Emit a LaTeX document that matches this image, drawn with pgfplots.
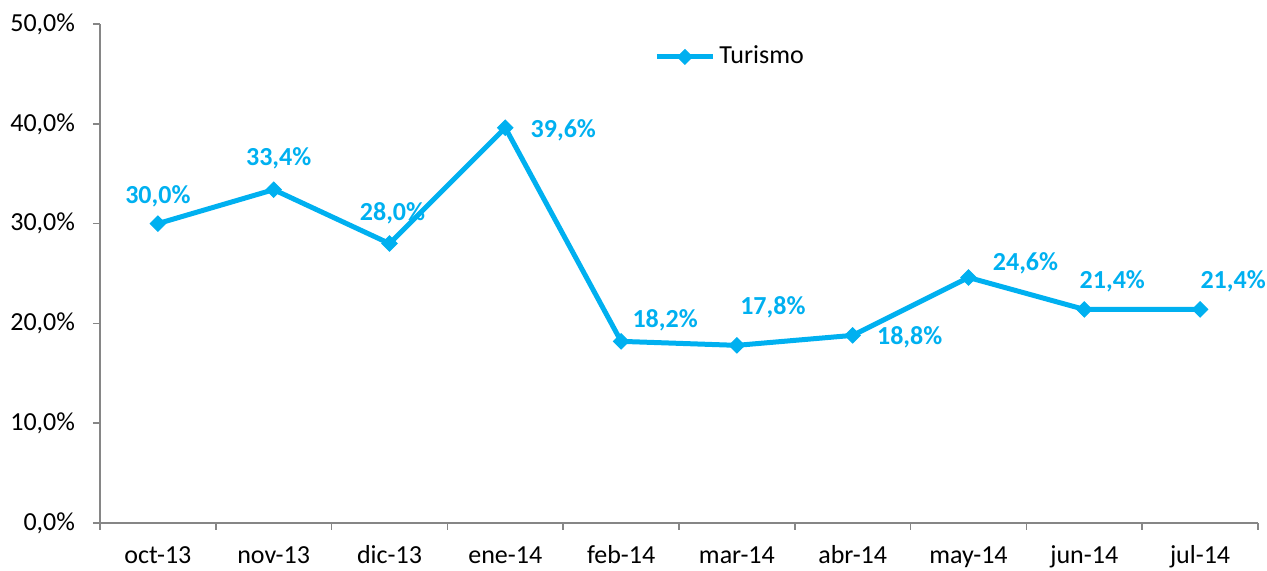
\documentclass[border=0pt]{standalone}
\usepackage{fontspec}
\setmainfont{Carlito}
\usepackage{pgfplots}
\pgfplotsset{compat=1.18}
\definecolor{tblue}{HTML}{00B0F0}
\definecolor{axgray}{HTML}{868686}
\pgfplotstableread{
x y dx dy
0 30.0 0 13.5
1 33.4 2.5 15.5
2 28.0 1.5 15
3 39.6 29 -1.5
4 18.2 22 10.5
5 17.8 18 19
6 18.8 28.5 -1
7 24.6 28.5 7
8 21.4 14 14
9 21.4 16.5 14
}\turismo
\begin{document}
\fontsize{13}{15}\selectfont
\begin{tikzpicture}
\begin{axis}[
 width=579pt,height=249.5pt,scale only axis,
 xmin=-0.5,xmax=9.5,ymin=0,ymax=50,
 axis x line*=bottom,axis y line*=left,
 axis line style={draw=axgray,line width=0.8pt},
 xtick={0,...,9},
 xticklabels={oct-13,nov-13,dic-13,ene-14,feb-14,mar-14,abr-14,may-14,jun-14,jul-14},
 major x tick style={draw=none},
 minor xtick={-0.5,0.5,...,9.5},
 minor tick length=3.5pt,
 minor x tick style={draw=axgray,line width=0.8pt},
 ytick={0,10,...,50},
 y tick style={draw=axgray,line width=0.8pt},
 major tick length=3.5pt,
 tick align=outside,
 xtick pos=bottom,ytick pos=left,
 yticklabel={\pgfmathprintnumber[fixed,fixed zerofill,precision=1,use comma]{\tick}\%},
 /pgf/number format/assume math mode=true,
 tick label style={font=\fontsize{13}{15}\selectfont,black},
 xticklabel style={yshift=-2.5pt,text height=9.5pt,text depth=2.5pt},
 yticklabel style={xshift=-4.5pt},
 legend style={draw=none,fill=none,at={(0.545,0.934)},anchor=center,
   font=\fontsize{13}{15}\selectfont},
 legend cell align=left,
 legend image code/.code={\draw[#1,line width=2.5pt] (0pt,0pt) -- (28pt,0pt);
   \draw[#1,line width=0.5pt] plot[mark=square*,mark size=2.6pt,mark options={rotate=45}] coordinates {(14pt,0pt)};},
 clip=false]
\addplot[color=tblue,line width=2.5pt,mark=square*,mark size=2.7pt,
 mark options={solid,fill=tblue,line width=0.5pt,rotate=45},
 nodes near coords={\pgfmathprintnumber[fixed,fixed zerofill,precision=1,use comma]{\pgfplotspointmeta}\%},
 visualization depends on={\thisrow{dx} \as \dx},
 visualization depends on={\thisrow{dy} \as \dy},
 every node near coord/.append style={anchor=center,xshift=\dx pt,yshift=\dy pt,
   font=\fontsize{13}{15}\selectfont\bfseries,text=tblue,
   /pgf/number format/assume math mode=true}]
 table[x=x,y=y]{\turismo};
\legend{Turismo}
\end{axis}
\pgfresetboundingbox
\path ([shift={(-50pt,-24pt)}]current axis.south west) rectangle ([shift={(4.5pt,12pt)}]current axis.north east);
\end{tikzpicture}
\end{document}
